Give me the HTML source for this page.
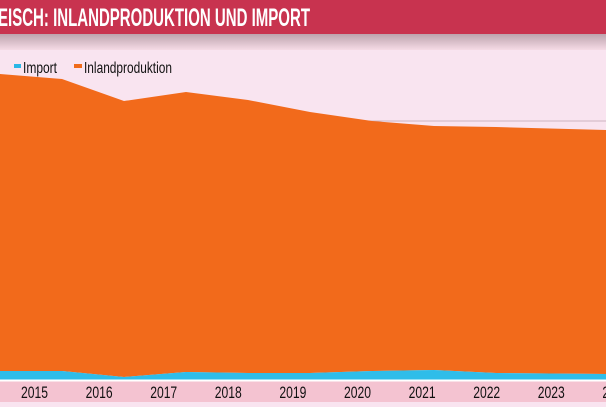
<!DOCTYPE html>
<html><head><meta charset="utf-8"><style>
body{margin:0;width:606px;height:402px;overflow:hidden;background:#f9e4f0;font-family:"Liberation Sans Narrow","Liberation Sans",sans-serif}
</style></head><body>
<svg width="606" height="402" viewBox="0 0 606 402">
<defs><linearGradient id="sh" x1="0" y1="0" x2="0" y2="1"><stop offset="0" stop-color="#b9a0aa"/><stop offset="1" stop-color="#f6dbe6"/></linearGradient></defs>
<rect x="0" y="0" width="606" height="402" fill="#f9e4f0"/>
<rect x="0" y="33" width="606" height="17" fill="url(#sh)"/>
<rect x="0" y="0" width="606" height="34" fill="#c8334f"/>
<text x="-2" y="26" fill="#fff" font-size="25" font-weight="bold" textLength="312" lengthAdjust="spacingAndGlyphs">EISCH: INLANDPRODUKTION UND IMPORT</text>
<line x1="0" y1="121" x2="606" y2="121" stroke="#cdb5c0" stroke-width="1"/>
<g>
<rect x="14" y="64" width="7" height="4" fill="#2ab6e6"/>
<text x="23" y="73" font-size="16" fill="#111" textLength="34" lengthAdjust="spacingAndGlyphs">Import</text>
<rect x="74" y="64" width="8" height="4" fill="#f06a1a"/>
<text x="84" y="73" font-size="16" fill="#111" textLength="88" lengthAdjust="spacingAndGlyphs">Inlandproduktion</text>
</g>
<g id="areas"></g>
<rect x="0" y="380" width="606" height="22" fill="#f4c3d1"/>
<line x1="0" y1="380.5" x2="606" y2="380.5" stroke="#fff" stroke-width="2"/>
<g id="ticks"></g>
</svg>
<script>
const years=["2015","2016","2017","2018","2019","2020","2021","2022","2023","2024"];
const importVals=[9,9,3,8,7,7,9,10,7,6];
const inlandVals=[297,292,276,280,273,261,250,244,246,244];
const ns="http://www.w3.org/2000/svg";
const baseY=380;
function xPt(i){return i===years.length-1?606:i*62;}
function yV(v){return baseY-v;}
function xLab(i){return 34+i*64.6;}
const g=document.getElementById('areas');
function area(lo,hi,color,name){
  let d="M"+xPt(0)+","+yV(hi[0]);
  for(let i=1;i<years.length;i++)d+=" L"+xPt(i)+","+yV(hi[i]);
  for(let i=years.length-1;i>=0;i--)d+=" L"+xPt(i)+","+yV(lo[i]);
  const p=document.createElementNS(ns,'path');
  p.setAttribute('d',d+"Z");p.setAttribute('fill',color);
  
  
  g.appendChild(p);
}
const zeros=years.map(()=>0);
const totals=years.map((_,i)=>importVals[i]+inlandVals[i]);
area(importVals,totals,"#f26a1b","inland-area");
area(zeros,importVals,"#2fbde9","import-area");
const t=document.getElementById('ticks');
years.forEach((y,i)=>{
  const tx=document.createElementNS(ns,'text');
  tx.setAttribute('x',xLab(i)-13);tx.setAttribute('y',398);
  tx.setAttribute('font-size','17');tx.setAttribute('fill','#111');
  tx.setAttribute('textLength','27');tx.setAttribute('lengthAdjust','spacingAndGlyphs');
  tx.textContent=y;
  
  
  t.appendChild(tx);
});
</script>
</body></html>
